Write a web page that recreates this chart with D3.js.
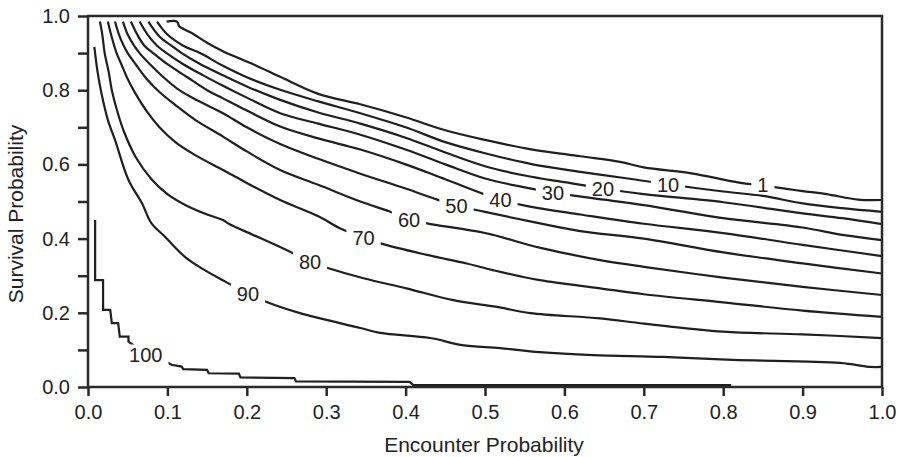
<!DOCTYPE html>
<html><head><meta charset="utf-8">
<script src="https://cdn.jsdelivr.net/npm/d3@7"></script>
<style>
body{margin:0;background:#fff}
text{font-family:"Liberation Sans",Arial,Helvetica,sans-serif;fill:#222}
</style>
</head><body>
<svg id="chart" width="898" height="457"></svg>
<script>
// ---- data ----
const contourLevels = ["1","10","20","30","40","50","60","70","80","90","100"];

const c1 = [[0.099,0.985],[0.112,0.985],[0.115,0.972],[0.13,0.955],[0.15,0.928],[0.17,0.905],[0.21,0.868],[0.242,0.836],[0.29,0.79],[0.343,0.762],[0.4,0.727],[0.45,0.692],[0.5,0.666],[0.56,0.64],[0.62,0.622],[0.67,0.607],[0.7,0.592],[0.76,0.576],[0.82,0.551],[0.85,0.543],[0.88,0.534],[0.9,0.528],[0.93,0.52],[0.97,0.505],[1.0,0.504]];
const c10 = [[0.087,0.985],[0.1,0.95],[0.12,0.92],[0.141,0.9],[0.17,0.866],[0.2,0.835],[0.242,0.801],[0.29,0.77],[0.343,0.738],[0.4,0.7],[0.45,0.66],[0.5,0.63],[0.56,0.6],[0.62,0.58],[0.68,0.562],[0.731,0.546],[0.8,0.527],[0.85,0.515],[0.9,0.495],[0.95,0.482],[1.0,0.472]];
const c20 = [[0.076,0.985],[0.09,0.945],[0.105,0.92],[0.118,0.9],[0.14,0.872],[0.17,0.84],[0.2,0.81],[0.242,0.774],[0.29,0.74],[0.343,0.71],[0.4,0.672],[0.45,0.632],[0.5,0.595],[0.55,0.57],[0.6,0.552],[0.649,0.535],[0.7,0.52],[0.8,0.498],[0.9,0.468],[0.95,0.455],[1.0,0.439]];
const c30 = [[0.065,0.985],[0.075,0.95],[0.087,0.92],[0.099,0.9],[0.12,0.87],[0.145,0.84],[0.17,0.812],[0.2,0.78],[0.242,0.738],[0.29,0.71],[0.343,0.68],[0.4,0.64],[0.45,0.6],[0.5,0.562],[0.55,0.538],[0.586,0.524],[0.65,0.505],[0.7,0.49],[0.8,0.455],[0.9,0.43],[0.95,0.41],[1.0,0.396]];
const c40 = [[0.054,0.985],[0.062,0.95],[0.071,0.92],[0.082,0.9],[0.1,0.87],[0.125,0.835],[0.15,0.8],[0.17,0.778],[0.2,0.745],[0.242,0.702],[0.29,0.67],[0.343,0.64],[0.4,0.6],[0.45,0.56],[0.519,0.505],[0.56,0.485],[0.62,0.465],[0.7,0.44],[0.8,0.415],[0.9,0.383],[1.0,0.353]];
const c50 = [[0.044,0.985],[0.05,0.95],[0.058,0.92],[0.065,0.9],[0.078,0.87],[0.095,0.835],[0.115,0.8],[0.14,0.77],[0.17,0.738],[0.2,0.7],[0.242,0.655],[0.29,0.615],[0.343,0.575],[0.4,0.535],[0.44,0.505],[0.464,0.489],[0.5,0.472],[0.56,0.445],[0.62,0.42],[0.7,0.4],[0.8,0.363],[0.9,0.333],[1.0,0.306]];
const c60 = [[0.034,0.985],[0.039,0.95],[0.045,0.92],[0.05,0.9],[0.06,0.87],[0.074,0.83],[0.09,0.795],[0.11,0.76],[0.135,0.72],[0.17,0.675],[0.2,0.635],[0.242,0.585],[0.29,0.545],[0.343,0.5],[0.38,0.473],[0.404,0.452],[0.427,0.441],[0.5,0.415],[0.57,0.375],[0.645,0.342],[0.7,0.324],[0.8,0.295],[0.9,0.27],[1.0,0.248]];
const c70 = [[0.025,0.985],[0.029,0.95],[0.033,0.92],[0.036,0.9],[0.042,0.87],[0.05,0.83],[0.06,0.79],[0.075,0.74],[0.09,0.7],[0.11,0.66],[0.135,0.625],[0.17,0.585],[0.2,0.55],[0.242,0.504],[0.29,0.46],[0.32,0.425],[0.347,0.403],[0.368,0.387],[0.427,0.356],[0.477,0.333],[0.51,0.315],[0.569,0.288],[0.645,0.266],[0.7,0.25],[0.8,0.228],[0.9,0.206],[1.0,0.189]];
const c80 = [[0.015,0.985],[0.018,0.95],[0.021,0.9],[0.026,0.85],[0.03,0.8],[0.036,0.75],[0.045,0.69],[0.06,0.62],[0.08,0.56],[0.1,0.52],[0.125,0.488],[0.15,0.465],[0.17,0.45],[0.179,0.438],[0.208,0.41],[0.25,0.369],[0.28,0.337],[0.303,0.32],[0.347,0.293],[0.401,0.266],[0.46,0.234],[0.515,0.216],[0.557,0.199],[0.645,0.185],[0.7,0.171],[0.8,0.149],[0.9,0.142],[1.0,0.132]];
const c90 = [[0.008,0.917],[0.012,0.85],[0.017,0.791],[0.025,0.72],[0.034,0.666],[0.051,0.558],[0.068,0.495],[0.08,0.441],[0.097,0.405],[0.122,0.351],[0.147,0.315],[0.173,0.284],[0.202,0.251],[0.225,0.229],[0.267,0.199],[0.343,0.159],[0.368,0.146],[0.431,0.132],[0.471,0.113],[0.519,0.105],[0.569,0.094],[0.636,0.086],[0.724,0.081],[0.812,0.073],[0.947,0.065],[0.985,0.054],[1.0,0.054]];
const c100 = [[0.009,0.45],[0.009,0.288],[0.019,0.288],[0.019,0.208],[0.028,0.208],[0.03,0.172],[0.038,0.172],[0.04,0.136],[0.051,0.136],[0.051,0.122],[0.073,0.088],[0.099,0.068],[0.105,0.06],[0.118,0.055],[0.12,0.048],[0.15,0.046],[0.152,0.037],[0.19,0.036],[0.192,0.026],[0.26,0.024],[0.262,0.015],[0.405,0.014],[0.41,0.005],[0.81,0.005]];
const contourSeries = [c1,c10,c20,c30,c40,c50,c60,c70,c80,c90,c100];

const labelX = [0.850,0.7305,0.6486,0.5856,0.5195,0.4641,0.4043,0.347,0.2796,0.2015,0.0728];
const labelY = [0.5458,0.5458,0.535,0.5243,0.5054,0.4892,0.4515,0.403,0.3369,0.2507,0.0876];

const xTickValues = [0,0.1,0.2,0.3,0.4,0.5,0.6,0.7,0.8,0.9,1.0];
const yTickValues = [0,0.1,0.2,0.3,0.4,0.5,0.6,0.7,0.8,0.9,1.0];
const yLabelValues = [0,0.2,0.4,0.6,0.8,1.0];
const xTitle = "Encounter Probability";
const yTitle = "Survival Probability";

// ---- drawing ----
const svg = d3.select("#chart");
const W = 898, H = 457;
const m = {left:88, right:882, top:16, bottom:387};
const x = d3.scaleLinear().domain([0,1]).range([m.left, m.right]);
const y = d3.scaleLinear().domain([0,1]).range([m.bottom, m.top]);
const ink = "#1f1f1f";

svg.append("rect").attr("width",W).attr("height",H).attr("fill","#fff");

const defs = svg.append("defs");
const lineLayer = svg.append("g");
const labelLayer = svg.append("g");

const labels = labelLayer.selectAll("text").data(contourLevels).join("text")
  .attr("x",(d,i)=>x(labelX[i]))
  .attr("y",(d,i)=>y(labelY[i]))
  .attr("dy","0.36em")
  .attr("text-anchor","middle")
  .attr("font-size",20)
  .text(d=>d);

labels.each(function(d,i){
  const bb = this.getBBox();
  const mask = defs.append("mask").attr("id","m"+i)
    .attr("maskUnits","userSpaceOnUse").attr("x",0).attr("y",0).attr("width",W).attr("height",H);
  mask.append("rect").attr("x",0).attr("y",0).attr("width",W).attr("height",H).attr("fill","#fff");
  const cy = y(labelY[i]);
  const padX = 6;
  mask.append("rect").attr("x",bb.x-padX).attr("y",cy-10).attr("width",bb.width+2*padX).attr("height",20).attr("fill","#000");
});

const smooth = d3.line().x(d=>x(d[0])).y(d=>y(d[1])).curve(d3.curveCatmullRom.alpha(0.5));
const straight = d3.line().x(d=>x(d[0])).y(d=>y(d[1]));

lineLayer.selectAll("path").data(contourSeries).join("path")
  .attr("d",(d,i)=> i===10 ? straight(d) : smooth(d))
  .attr("fill","none")
  .attr("stroke",ink)
  .attr("stroke-width",2.2)
  .attr("stroke-linejoin","miter")
  .attr("mask",(d,i)=>"url(#m"+i+")");

// axes
const xAxis = svg.append("g").attr("transform",`translate(0,${m.bottom})`)
  .call(d3.axisBottom(x).tickValues(xTickValues).tickSize(9).tickPadding(9).tickFormat(d3.format(".1f")));
const yAxis = svg.append("g").attr("transform",`translate(${m.left},0)`)
  .call(d3.axisLeft(y).tickValues(yTickValues).tickSize(10).tickPadding(8)
    .tickFormat(v => yLabelValues.some(t=>Math.abs(t-v)<1e-9) ? d3.format(".1f")(v) : ""));
[xAxis,yAxis].forEach(g=>{
  g.select(".domain").remove();
  g.selectAll(".tick line").attr("stroke","#2a2a2a").attr("stroke-width",2.5);
  g.selectAll(".tick text").attr("font-size",20).attr("fill","#222")
    .attr("font-family",'"Liberation Sans",Arial,Helvetica,sans-serif');
});

// frame
svg.append("rect").attr("x",m.left).attr("y",m.top)
  .attr("width",m.right-m.left).attr("height",m.bottom-m.top)
  .attr("fill","none").attr("stroke","#2a2a2a").attr("stroke-width",2.5);

// titles
svg.append("text").attr("x",484).attr("y",452).attr("text-anchor","middle")
  .attr("font-size",21).text(xTitle);
svg.append("text").attr("transform","translate(23,214) rotate(-90)")
  .attr("text-anchor","middle").attr("font-size",21).text(yTitle);
</script>
</body></html>
